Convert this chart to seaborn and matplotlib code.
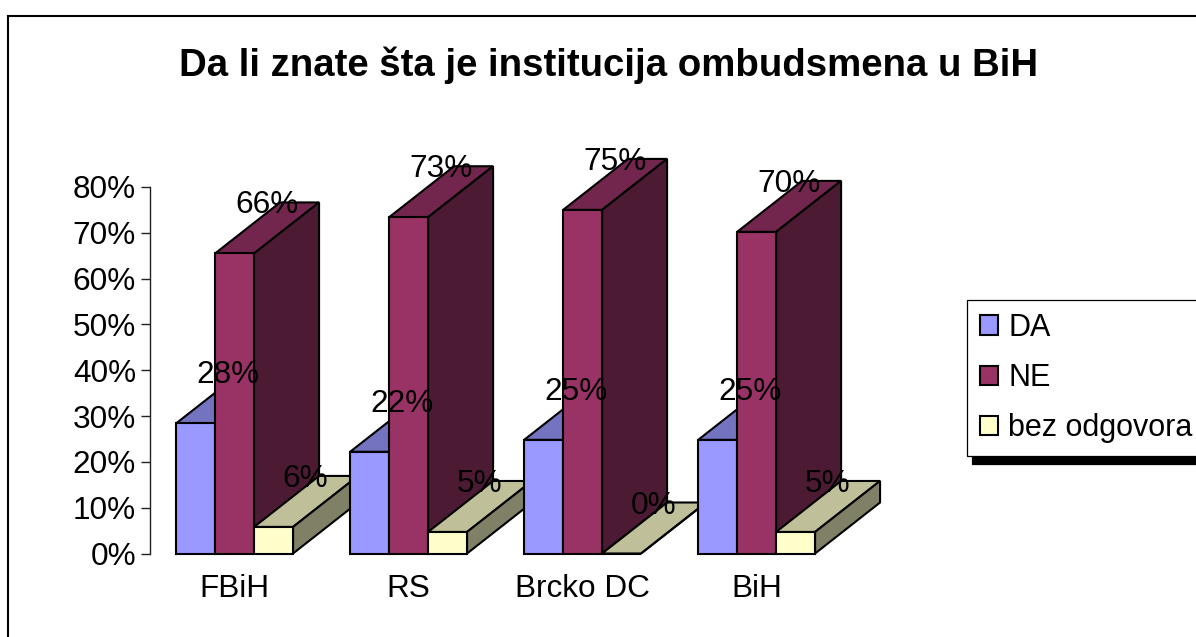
#!/usr/bin/env python3
"""Da li znate sta je institucija ombudsmena u BiH - 3D style column chart."""

import matplotlib
matplotlib.use("Agg")
import matplotlib.pyplot as plt
import pandas as pd
import seaborn as sns
from matplotlib.lines import Line2D
from matplotlib.patches import Polygon
from matplotlib.ticker import PercentFormatter

TITLE = "Da li znate šta je institucija ombudsmena u BiH"
regions = ["FBiH", "RS", "Brcko DC", "BiH"]
answers = ["DA", "NE", "bez odgovora"]
da_values = [28.4, 22.2, 24.8, 24.8]
ne_values = [65.5, 73.4, 75.0, 70.2]
none_values = [5.8, 4.7, 0.0, 4.7]
y_ticks = [0, 10, 20, 30, 40, 50, 60, 70, 80]

front_colors = ["#9999FF", "#993366", "#FFFFCC"]
top_colors = ["#7373BF", "#73264D", "#BFBF99"]
side_colors = ["#4D4D80", "#4D1A33", "#808066"]

W, H = 1196, 637
FS = 22.7
EDGE = 1.5

sns.set_theme(style="white")
plt.rcParams["font.family"] = ["Liberation Sans", "DejaVu Sans"]

df = pd.DataFrame({"region": regions, "DA": da_values, "NE": ne_values, "bez odgovora": none_values})
df = df.melt(id_vars="region", var_name="answer", value_name="pct")

fig = plt.figure(figsize=(W / 100, H / 100), dpi=100, facecolor="white")
ax = fig.add_axes([150 / W, (H - 553.5) / H, 693.6 / W, 366.5 / H])
ax.patch.set_alpha(0)

sns.barplot(
    data=df, x="region", y="pct", hue="answer", order=regions, hue_order=answers,
    palette=front_colors, saturation=1, width=0.672, gap=0,
    edgecolor="black", linewidth=EDGE, errorbar=None, ax=ax,
)

ax.set_xlim(-0.486, 3.5)
ax.set_ylim(0, 80)

# depth of the fake 3D extrusion, in data units
px_y = 366.5 / 80
dx = 65 / 174
dy = 51 / px_y

for h, container in enumerate(ax.containers):
    for c, bar in enumerate(container.patches):
        x0, x1 = bar.get_x(), bar.get_x() + bar.get_width()
        top = bar.get_height()
        z = 3 + c * 10 + h * 3
        style = dict(edgecolor="black", linewidth=EDGE, clip_on=False, joinstyle="miter", zorder=z)
        ax.add_patch(Polygon([(x0, top), (x1, top), (x1 + dx, top + dy), (x0 + dx, top + dy)],
                             facecolor=top_colors[h], **style))
        ax.add_patch(Polygon([(x1, 0), (x1 + dx, dy), (x1 + dx, top + dy), (x1, top)],
                             facecolor=side_colors[h], **style))
        bar.set_zorder(z + 1)
        bar.set_clip_on(False)
        ax.text((x0 + x1) / 2 + 32 / 174, top + dy - 3 / px_y, f"{top:.0f}%", ha="center", va="center",
                fontsize=FS, color="black", zorder=100)

ax.set_xlabel("")
ax.set_ylabel("")
ax.set_yticks(y_ticks)
ax.yaxis.set_major_formatter(PercentFormatter(xmax=100, decimals=0))
ax.tick_params(axis="y", left=True, length=6.5, width=1, color="#222222", pad=3.5, labelsize=FS, labelcolor="black")
ax.tick_params(axis="x", bottom=False, length=0, pad=15, labelsize=FS, labelcolor="black")
sns.despine(ax=ax, top=True, right=True, bottom=True)
ax.spines["left"].set_color("#222222")
ax.spines["left"].set_linewidth(1)

sns.move_legend(
    ax, "upper left", bbox_to_anchor=(967 / W, 1 - 300 / H), bbox_transform=fig.transFigure,
    title=None, frameon=True, fancybox=False, fontsize=22, borderaxespad=0, borderpad=0.42,
    labelspacing=0.66, handlelength=0.6, handleheight=0.6, handletextpad=0.33,
    edgecolor="black", framealpha=1, shadow=dict(ox=3.6, oy=-5.8, facecolor="black", edgecolor="black", alpha=1),
    labelcolor="black",
)
ax.get_legend().get_frame().set_linewidth(0.9)

fig.text(609 / W, 1 - 65 / H, TITLE, ha="center", va="center", fontsize=27.6, fontweight="bold", color="black")

# outer chart border, runs off the right and bottom of the picture
fig.add_artist(Line2D([8 / W, 8 / W, 1], [0, 1 - 15.5 / H, 1 - 15.5 / H], color="black", linewidth=1.5,
                      solid_joinstyle="miter", transform=fig.transFigure))

fig.savefig("out.png", dpi=100)
